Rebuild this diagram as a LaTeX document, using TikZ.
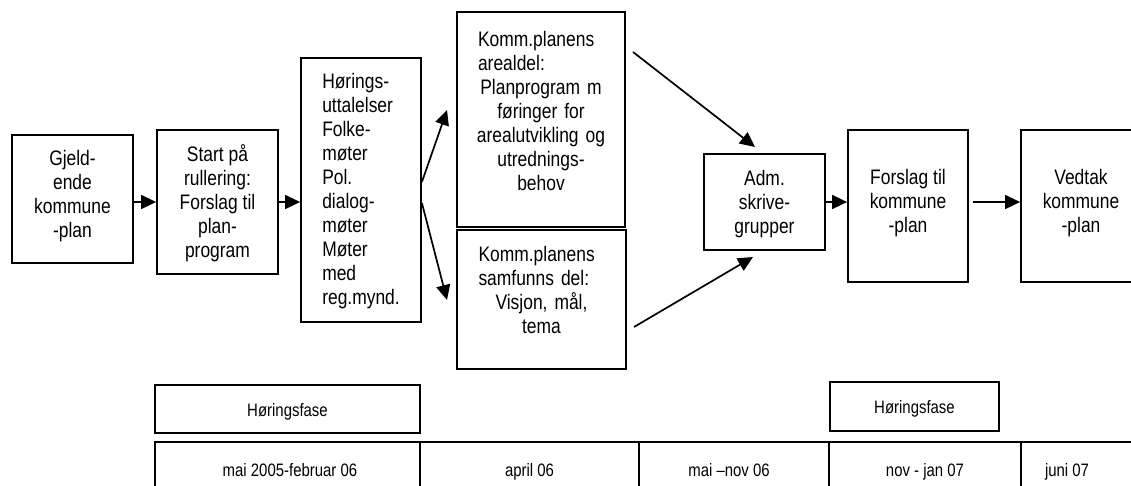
\documentclass[tikz,border=0pt]{standalone}
\usepackage{fontspec}
\setmainfont{Liberation Sans}[FakeStretch=0.83]
\usetikzlibrary{arrows.meta,calc}
\begin{document}
\begin{tikzpicture}[x=1pt,y=-1pt,
  box/.style={draw,line width=1.8pt,inner sep=0pt},
  txt/.style={inner sep=0pt,align=center,font=\fontsize{21}{24}\selectfont},
  small/.style={inner sep=0pt,anchor=base,font=\fontsize{18}{21}\selectfont},
  arr/.style={line width=1.7pt,-{Triangle[length=15pt,width=14pt]}}]
\useasboundingbox (0,0) rectangle (1131,485);
\clip (0,0) rectangle (1131,485);
\fill[white] (0,0) rectangle (1131,485);
% main boxes
\node[box,minimum width=121pt,minimum height=128pt] (b1) at (72.5,199) {};
\node[box,minimum width=121pt,minimum height=144pt] (b2) at (217.5,202) {};
\node[box,minimum width=120pt,minimum height=264pt] (b3) at (361,190) {};
\node[box,minimum width=168pt,minimum height=215pt] (b4) at (541,119.5) {};
\node[box,minimum width=169pt,minimum height=139pt] (b5) at (541.5,299.5) {};
\node[box,minimum width=121pt,minimum height=96pt] (b6) at (764.5,202) {};
\node[box,minimum width=120pt,minimum height=152pt] (b7) at (908,206) {};
\node[box,minimum width=120pt,minimum height=152pt] (b8) at (1081,206) {};
% texts
\node[txt] (t1) at (72.5,196) {Gjeld-\\ende\\kommune\\-plan};
\node[txt] (t2) at (217.5,203) {Start på\\rullering:\\Forslag til\\plan-\\program};
\node[txt,align=left] (t3) at (361,191) {Hørings-\\uttalelser\\Folke-\\møter\\Pol.\\dialog-\\møter\\Møter\\med\\reg.mynd.};
\node[txt,text width=150pt] (t4) at (541,111) {\makebox[\linewidth][l]{\hspace{12pt}Komm.planens}\\\makebox[\linewidth][l]{\hspace{12pt}arealdel:}\\Planprogram m\\føringer for\\arealutvikling og\\utrednings-\\behov};
\node[txt,text width=150pt] (t5) at (541.5,290) {\makebox[\linewidth][l]{\hspace{12pt}Komm.planens}\\\makebox[\linewidth][l]{\hspace{12pt}samfunns del:}\\Visjon, mål,\\tema};
\node[txt] (t6) at (764.5,204) {Adm.\\skrive-\\grupper};
\node[txt] (t7) at (908,203) {Forslag til\\kommune\\-plan};
\node[txt] (t8) at (1081,203) {Vedtak\\kommune\\-plan};
% arrows
\coordinate (e34) at (447,110);
\coordinate (e35) at (447,300);
\coordinate (s46) at (633,52);
\coordinate (e46) at (755,147);
\coordinate (s56) at (634,327);
\coordinate (e56) at (753,257);
\draw[arr] (b1.east |- b2.west) -- (b2.west);
\draw[arr] (b2.east) -- (b3.west |- b2.east);
\draw[arr] ([yshift=8pt]b3.east) -- (e34);
\draw[arr] ([yshift=-13pt]b3.east) -- (e35);
\draw[arr] (s46) -- (e46);
\draw[arr] (s56) -- (e56);
\draw[arr] (b6.east) -- (b7.west |- b6.east);
\draw[arr] ([xshift=4pt]b7.east |- b6.east) -- (b8.west |- b6.east);
% phases
\node[box,minimum width=265pt,minimum height=48pt] (h1) at (287.5,409) {};
\node[box,minimum width=169pt,minimum height=49pt] (h2) at (914.5,406.5) {};
\node[small] (th1) at (287.5,416) {Høringsfase};
\node[small] (th2) at (914.5,413) {Høringsfase};
% timeline
\tikzset{cell/.style={box,minimum height=58pt}}
\node[cell,minimum width=265pt] (c1) at (287.5,471) {};
\node[cell,minimum width=219pt] (c2) at (529.5,471) {};
\node[cell,minimum width=190pt] (c3) at (734,471) {};
\node[cell,minimum width=192pt] (c4) at (925,471) {};
\node[cell,minimum width=140pt] (c5) at (1091,471) {};
\node[small] (tc1) at (290,476) {mai 2005-februar 06};
\node[small] (tc2) at (529.5,476) {april 06};
\node[small] (tc3) at (729,476) {mai –nov 06};
\node[small] (tc4) at (925,476) {nov - jan 07};
\node[small] (tc5) at (1067,476) {juni 07};
\end{tikzpicture}
\end{document}
